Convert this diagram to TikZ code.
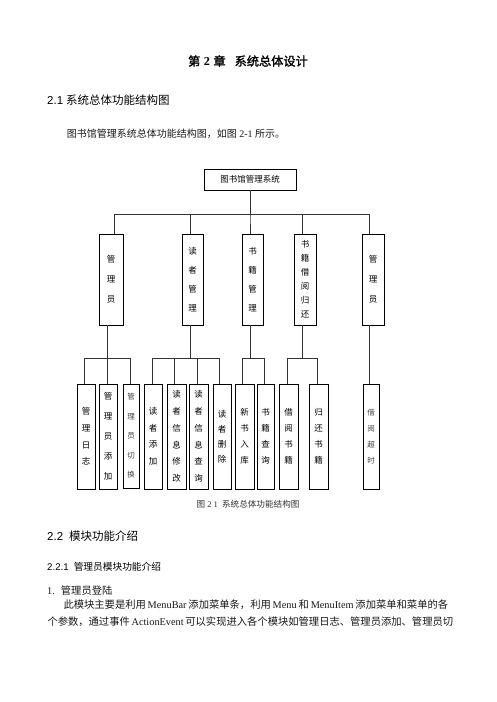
\documentclass[tikz,border=0pt]{standalone}
\usepackage{fontspec}
\setmainfont{Liberation Serif}
\newfontfamily\cjk{Noto Sans CJK SC}
\newfontfamily\cjkh[FakeBold=1.5]{Noto Sans CJK SC}
\newfontfamily\sansf{Liberation Sans}
\begin{document}
\begin{tikzpicture}[x=1pt,y=-1pt,
  box/.style={draw, line width=0.9pt, inner sep=0pt, fill=white},
  vt/.style={font=\cjk\fontsize{8.5}{#1}\selectfont, align=center},
  vts/.style={font=\cjk\fontsize{7.5}{#1}\selectfont, align=center, text=black!75},
  conn/.style={line width=0.9pt, draw=black!80},
  txt/.style={inner sep=0pt, anchor=west}]
\fill[white] (0,0) rectangle (496,702);
\path[use as bounding box] (0,0) rectangle (496,702);

% headings and text
\node[inner sep=0pt, font=\cjkh\fontsize{12.2}{14}\selectfont] (title) at (248,61)
  {第\hspace{3.5pt}{\rmfamily\bfseries 2}\hspace{3.5pt}章\hspace{9pt}系统总体设计};
\node[txt, font=\rmfamily\fontsize{11.5}{14}\selectfont] (sec21) at (47,100)
  {{\sansf 2.1} {\cjk 系统总体功能结构图}};
\node[txt, font=\rmfamily\fontsize{10}{12}\selectfont, text=black!90] (intro) at (66.7,134.3)
  {{\cjk 图书馆管理系统总体功能结构图，如图} 2-1 {\cjk 所示。}};

% tree
\node[box, minimum width=92pt, minimum height=21pt, font=\cjk\fontsize{8.5}{10}\selectfont] (top) at (250,179.5) {图书馆管理系统};

\node[box, minimum width=24pt, minimum height=91pt, vt=20] (mgr) at (111,279.5) {管\\理\\员};
\node[box, minimum width=21pt, minimum height=91pt, vt=19] (rdr) at (192.5,279.5) {读\\者\\管\\理};
\node[box, minimum width=21pt, minimum height=91pt, vt=19] (book) at (252.5,279.5) {书\\籍\\管\\理};
\node[box, minimum width=22pt, minimum height=91pt, vt=14] (lend) at (305,279.5) {书\\籍\\借\\阅\\归\\还};
\node[box, minimum width=22pt, minimum height=91pt, vt=20] (mgr2) at (373,279.5) {管\\理\\员};

\node[box, minimum width=18pt, minimum height=105pt, vt=16.7] (la) at (86,436.5) {管\\理\\日\\志};
\node[box, minimum width=18pt, minimum height=105pt, vt=20] (lb) at (108,436.5) {管\\理\\员\\添\\加};
\node[box, minimum width=16pt, minimum height=104pt, vts=19.5] (lc) at (131,436) {管\\理\\员\\切\\换};
\node[box, minimum width=18pt, minimum height=105pt, vt=16.5] (ld) at (153,436.5) {读\\者\\添\\加};
\node[box, minimum width=19pt, minimum height=105pt, vt=16.7] (le) at (176.5,436.5) {读\\者\\信\\息\\修\\改};
\node[box, minimum width=19pt, minimum height=105pt, vt=16.7] (lf) at (198.5,436.5) {读\\者\\信\\息\\查\\询};
\node[box, minimum width=18pt, minimum height=105pt, vt=15] (lg) at (222,436.5) {读\\者\\删\\除};
\node[box, minimum width=19pt, minimum height=105pt, vt=16] (lh) at (244.5,436.5) {新\\书\\入\\库};
\node[box, minimum width=17pt, minimum height=105pt, vt=16] (li) at (265.5,436.5) {书\\籍\\查\\询};
\node[box, minimum width=19pt, minimum height=105pt, vt=16] (lj) at (288.5,436.5) {借\\阅\\书\\籍};
\node[box, minimum width=19pt, minimum height=105pt, vt=16] (lk) at (318.5,436.5) {归\\还\\书\\籍};
\node[box, minimum width=16pt, minimum height=105pt, vts=16] (ll) at (371,436.5) {借\\阅\\超\\时};

% connectors level 1 -> 2
\draw[conn] (top.south) -- ++(0,24) -| ([xshift=3pt]mgr.north);
\draw[conn] (top.south) -- ++(0,24) -| ([xshift=-2.5pt]rdr.north);
\draw[conn] (top.south) -- ++(0,24) -| ([xshift=-2.5pt]book.north);
\draw[conn] (top.south) -- ++(0,24) -| ([xshift=-2.3pt]lend.north);
\draw[conn] (top.south) -- ++(0,24) -| ([xshift=-3.3pt]mgr2.north);

% connectors level 2 -> 3
\draw[conn] ([xshift=-3.7pt]mgr.south) -- ++(0,33) -| ([xshift=-1.3pt]la.north);
\draw[conn] ([xshift=-3.7pt]mgr.south) -- ++(0,33) -| ([xshift=-0.7pt]lb.north);
\draw[conn] ([xshift=-3.7pt]mgr.south) -- ++(0,33) -| ([xshift=-1pt]lc.north);
\draw[conn] ([xshift=-2.5pt]rdr.south) -- ++(0,33) -| ([xshift=-0.7pt]ld.north);
\draw[conn] ([xshift=-2.5pt]rdr.south) -- ++(0,33) -| ([xshift=-1.8pt]le.north);
\draw[conn] ([xshift=-2.5pt]rdr.south) -- ++(0,33) -| ([xshift=-1.2pt]lf.north);
\draw[conn] ([xshift=-2.5pt]rdr.south) -- ++(0,33) -| ([xshift=-2.3pt]lg.north);
\draw[conn] ([xshift=-2.5pt]book.south) -- ++(0,33) -| ([xshift=-2.2pt]lh.north);
\draw[conn] ([xshift=-2.5pt]book.south) -- ++(0,33) -| ([xshift=-0.8pt]li.north);
\draw[conn] ([xshift=-2.7pt]lend.south) -- ++(0,33) -| ([xshift=-1.2pt]lj.north);
\draw[conn] ([xshift=-2.7pt]lend.south) -- ++(0,33) -| ([xshift=-1.2pt]lk.north);
\draw[conn] ([xshift=-3.3pt]mgr2.south) -- ([xshift=-1.3pt]ll.north);

% caption and following text
\node[inner sep=0pt, font=\rmfamily\fontsize{8.6}{10}\selectfont, text=black!80] (cap) at (248,504)
  {{\cjk 图} 2 1\hspace{4pt}{\cjk 系统总体功能结构图}};
\node[txt, font=\rmfamily\fontsize{11.5}{14}\selectfont] (sec22) at (47,536)
  {{\sansf 2.2}\hspace{6pt}{\cjk 模块功能介绍}};
\node[txt, font=\rmfamily\fontsize{9.7}{12}\selectfont] (sec221) at (47,567)
  {{\sansf 2.2.1}\hspace{5pt}{\cjk 管理员模块功能介绍}};
\node[txt, font=\rmfamily\fontsize{10.3}{12}\selectfont, text=black!90] (item1) at (47,591)
  {1.\hspace{6pt}{\cjk 管理员登陆}};
\node[txt, font=\rmfamily\fontsize{10.3}{12}\selectfont, text=black!90] (p1) at (63.3,605)
  {\makebox[384.7pt][s]{{\cjk 此模块主要是利用} MenuBar {\cjk 添加菜单条，利用} Menu {\cjk 和} MenuItem {\cjk 添加菜单和菜单的各}}};
\node[txt, font=\rmfamily\fontsize{10.3}{12}\selectfont, text=black!90] (p2) at (47.3,622)
  {\makebox[397.7pt][s]{{\cjk 个参数，通过事件} ActionEvent {\cjk 可以实现进入各个模块如管理日志、管理员添加、管理员切}}};
\end{tikzpicture}
\end{document}
